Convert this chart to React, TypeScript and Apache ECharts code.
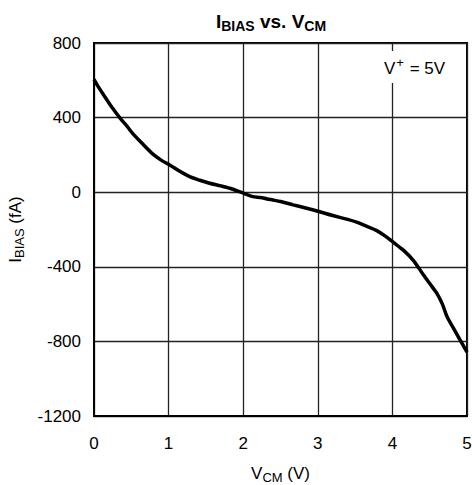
import React, { useEffect, useRef } from "react";
import * as echarts from "echarts";

const vcm = [0, 0.05, 0.15, 0.25, 0.35, 0.45, 0.52, 0.66, 0.79, 0.9, 1.02, 1.15, 1.29, 1.42, 1.55, 1.7, 1.82, 2.0, 2.13, 2.23, 2.32, 2.4, 2.5, 2.67, 2.85, 3.0, 3.2, 3.4, 3.53, 3.65, 3.79, 3.9, 4.01, 4.15, 4.28, 4.41, 4.5, 4.6, 4.67, 4.73, 4.82, 4.91, 5.0];
const ibias = [605, 570, 509, 450, 397, 350, 314, 256, 204, 172, 145, 112, 82, 64, 48, 34, 21, -5, -24, -28, -36, -42, -50, -68, -86, -102, -125, -146, -162, -182, -206, -234, -268, -312, -365, -440, -490, -545, -600, -665, -730, -794, -858];

const xTicks = [0, 5, 1];
const yTicks = [-1200, 800, 400];

const FONT = "Liberation Sans, Arial, sans-serif";

export default function App() {
  const ref = useRef<HTMLDivElement>(null);
  useEffect(() => {
    const chart = echarts.init(ref.current!, null, { renderer: "svg" });
    chart.setOption({
      animation: false,
      backgroundColor: "#fff",
      textStyle: { fontFamily: FONT },
      title: {
        text: "I{sub|BIAS} vs. V{sub|CM}",
        left: 266,
        textAlign: "center",
        top: 5,
        textStyle: {
          fontFamily: FONT,
          fontSize: 19,
          fontWeight: "bold",
          color: "#000",
          rich: {
            sub: { fontFamily: FONT, fontSize: 14, fontWeight: "bold", color: "#000", padding: [9, 0, 0, 0] },
          },
        },
      },
      grid: {
        left: 94,
        right: 5,
        top: 43,
        bottom: 69,
        show: true,
        borderColor: "#000",
        borderWidth: 2,
        containLabel: false,
        outerBoundsMode: "none",
      },
      xAxis: {
        type: "value",
        min: xTicks[0],
        max: xTicks[1],
        interval: xTicks[2],
        name: "V{sub|CM} (V)",
        nameLocation: "middle",
        nameGap: 46,
        nameTextStyle: {
          fontFamily: FONT,
          fontSize: 17,
          color: "#000",
          rich: { sub: { fontFamily: FONT, fontSize: 13, color: "#000", padding: [9, 0, 0, 0] } },
        },
        axisLine: { show: true, onZero: false, lineStyle: { color: "#000", width: 2 } },
        axisTick: { show: false },
        axisLabel: { margin: 19, fontSize: 17, color: "#000", fontFamily: FONT },
        splitLine: { show: true, lineStyle: { color: "#222", width: 1.3 } },
      },
      yAxis: {
        type: "value",
        min: yTicks[0],
        max: yTicks[1],
        interval: yTicks[2],
        name: "I{sub|BIAS} (fA)",
        nameLocation: "middle",
        nameGap: 68,
        nameTextStyle: {
          fontFamily: FONT,
          fontSize: 17,
          color: "#000",
          rich: { sub: { fontFamily: FONT, fontSize: 13, color: "#000", padding: [9, 0, 0, 0] } },
        },
        axisLine: { show: true, onZero: false, lineStyle: { color: "#000", width: 2 } },
        axisTick: { show: false },
        axisLabel: {
          margin: 13,
          fontSize: 17,
          color: "#000",
          fontFamily: FONT,
          formatter: (v: number) => String(v),
        },
        splitLine: { show: true, lineStyle: { color: "#222", width: 1.3 } },
      },
      graphic: [
        {
          type: "rect",
          shape: { x: 382, y: 51, width: 82, height: 32 },
          style: { fill: "#fff" },
          z: 10,
        },
        {
          type: "text",
          x: 384,
          y: 56,
          z: 11,
          style: {
            text: "V{sup|+} = 5V",
            fontFamily: FONT,
            fontSize: 17,
            fill: "#000",
            rich: {
              sup: { fontFamily: FONT, fontSize: 13, fill: "#000", padding: [0, 1, 12, 1] },
            },
          },
        },
      ],
      series: [
        {
          type: "line",
          data: vcm.map((v, i) => [v, ibias[i]]),
          showSymbol: false,
          smooth: 0.3,
          lineStyle: { color: "#000", width: 3.5 },
          z: 5,
        },
      ],
    });
    return () => chart.dispose();
  }, []);
  return <div ref={ref} style={{ position: "fixed", left: 0, top: 0, width: 472, height: 485 }} />;
}
